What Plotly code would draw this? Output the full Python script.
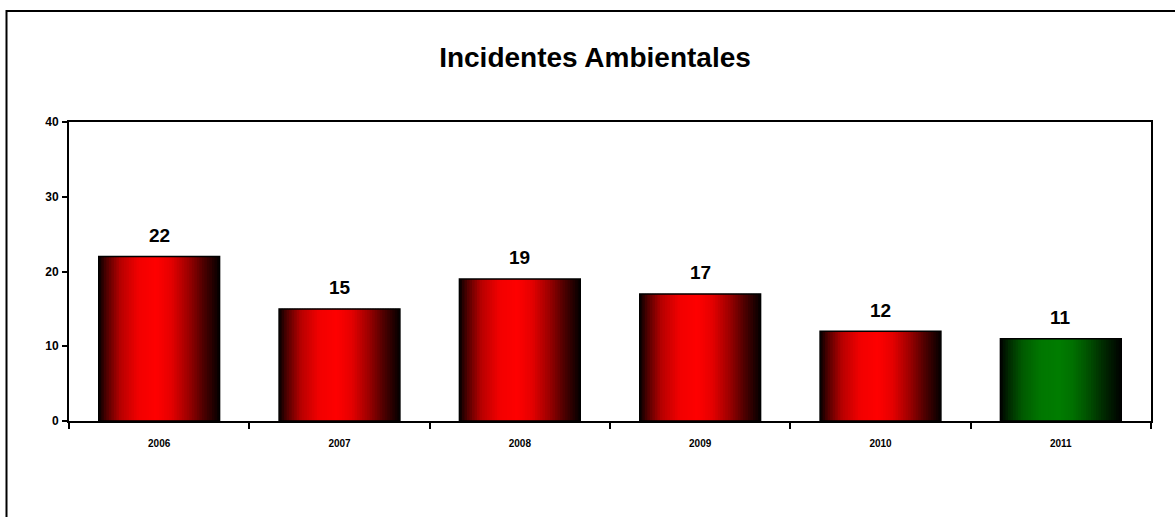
import numpy as np
import plotly.graph_objects as go

# ---- data ----
years = ["2006", "2007", "2008", "2009", "2010", "2011"]
values = [22, 15, 19, 17, 12, 11]
base_colors = [(255, 0, 0)] * 5 + [(0, 125, 0)]
title_text = "Incidentes Ambientales"
y_ticks = [0, 10, 20, 30, 40]

# ---- style ----
BAR_W = 0.67
N_SLICES = 48
stops_t = [0.0, 0.06, 0.18, 0.33, 0.48, 0.6, 0.74, 0.87, 1.0]
stops_v = [0.02, 0.3, 0.72, 0.95, 1.0, 0.9, 0.62, 0.3, 0.02]

fig = go.Figure()

slice_w = BAR_W / N_SLICES
for i in range(N_SLICES):
    t = (i + 0.5) / N_SLICES
    k = float(np.interp(t, stops_t, stops_v))
    cols = [f"rgb({int(r*k)},{int(g*k)},{int(b*k)})" for (r, g, b) in base_colors]
    fig.add_trace(go.Bar(
        x=years, y=values,
        offset=-BAR_W / 2 + i * slice_w,
        width=slice_w * (1.6 if i < N_SLICES - 1 else 1.0),
        marker=dict(color=cols, line=dict(width=0)),
        showlegend=False, hoverinfo="skip",
    ))

# outline
fig.add_trace(go.Bar(
    x=years, y=values, width=BAR_W,
    marker=dict(color="rgba(0,0,0,0)", line=dict(color="black", width=1.5)),
    showlegend=False,
))

for idx, v in enumerate(values):
    fig.add_annotation(x=idx, y=v, text=str(v), showarrow=False,
                       yanchor="middle", yshift=21,
                       font=dict(family="Arial, Liberation Sans", size=19, color="black", weight="bold"))

W, H = 1175, 517
L, R, T, B = 69, W - 1151, 122, H - 421
pw, ph = W - L - R, H - T - B

# outer chart border (extends past the visible window on right/bottom)
fig.add_shape(type="rect", xref="paper", yref="paper",
              x0=(6.5 - L) / pw, x1=(1185 - L) / pw,
              y0=(421 - 530) / ph, y1=(421 - 11) / ph,
              line=dict(color="black", width=2), fillcolor="rgba(0,0,0,0)", layer="above")

fig.update_layout(
    width=W, height=H,
    margin=dict(l=L, r=R, t=T, b=B, pad=0),
    barmode="overlay",
    plot_bgcolor="white", paper_bgcolor="white",
    title=dict(text=title_text, x=(595 - L) / pw, xref="paper", xanchor="center",
               y=1 - 57 / H, yanchor="middle",
               font=dict(family="Arial, Liberation Sans", size=28, color="black", weight="bold")),
    font=dict(family="Arial, Liberation Sans", color="black"),
)
fig.update_xaxes(
    type="category", range=[-0.5, len(years) - 0.5],
    showline=True, linecolor="black", linewidth=2, mirror=True,
    ticks="outside", ticklen=6, tickwidth=1.5, tickcolor="black",
    tickson="boundaries", showgrid=False,
    tickfont=dict(size=10, weight="bold", color="black"),
    ticklabelstandoff=12,
)
fig.update_yaxes(
    range=[0, 40], tickvals=y_ticks, showline=True, linecolor="black", linewidth=2, mirror=True,
    ticks="outside", ticklen=5, tickwidth=1.5, tickcolor="black", showgrid=False, zeroline=False,
    tickfont=dict(size=12, weight="bold", color="black"),
    ticklabelstandoff=1,
)

fig.write_html("out.html", config={"displayModeBar": False},
               post_script="document.body.style.margin='0';")
